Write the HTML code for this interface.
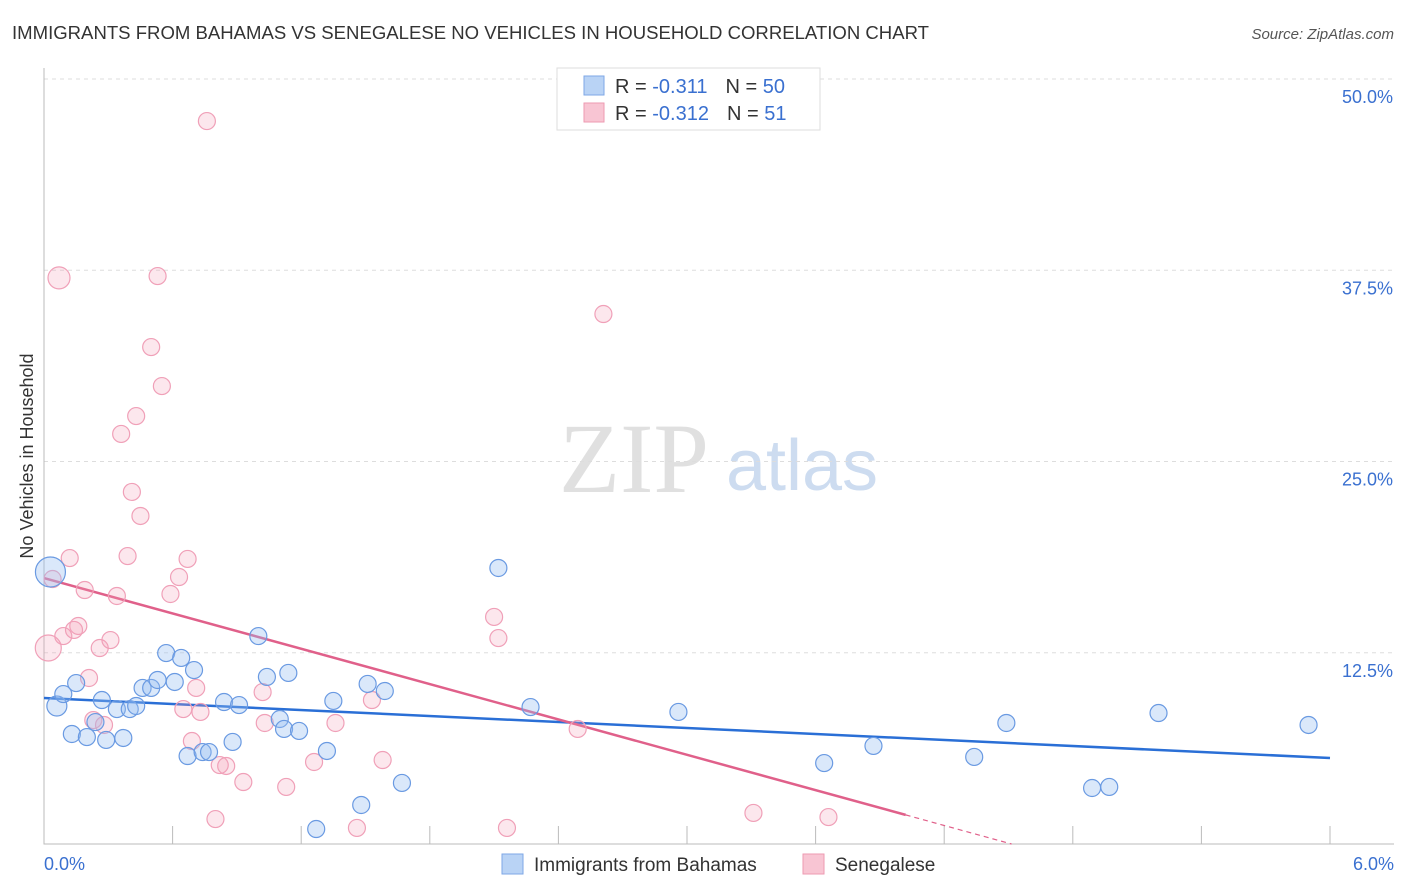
<!DOCTYPE html>
<html><head><meta charset="utf-8"><style>
body{margin:0;background:#fff;font-family:"Liberation Sans",sans-serif}
svg{display:block}
</style></head><body>
<svg id="chart" width="1406" height="892">
<text x="12" y="39" font-size="18" fill="#333" textLength="917" lengthAdjust="spacingAndGlyphs">IMMIGRANTS FROM BAHAMAS VS SENEGALESE NO VEHICLES IN HOUSEHOLD CORRELATION CHART</text>
<text x="1394" y="39" font-size="15" fill="#555" font-style="italic" text-anchor="end">Source: ZipAtlas.com</text>
<text x="33" y="456" font-size="18" fill="#333" text-anchor="middle" transform="rotate(-90 33 456)">No Vehicles in Household</text>
<g><text x="634" y="492" font-size="100" fill="#e0e0e0" font-family="Liberation Serif,serif" text-anchor="middle">ZIP</text><text x="802" y="490" font-size="72" fill="#cddcf0" text-anchor="middle">atlas</text></g>
<g id="grid"></g><g id="axes"></g><g id="lines"></g><g id="pts"></g>
<g>
<rect x="557" y="68" width="263" height="62" fill="#fff" stroke="#ddd"/>
<rect x="584" y="76" width="20" height="19" fill="#b9d3f5" stroke="#7ea7e6"/>
<rect x="584" y="103" width="20" height="19" fill="#f8c5d3" stroke="#ee9ab2"/>
<text x="615" y="93" font-size="20" fill="#333">R = <tspan fill="#3a70d0"> -0.311</tspan><tspan dx="18">N = </tspan><tspan fill="#3a70d0">50</tspan></text>
<text x="615" y="120" font-size="20" fill="#333">R = <tspan fill="#3a70d0">-0.312</tspan><tspan dx="18">N = </tspan><tspan fill="#3a70d0"> 51</tspan></text>
</g>
<g>
<rect x="502" y="854" width="21" height="20" fill="#b9d3f5" stroke="#7ea7e6"/>
<text x="534" y="871" font-size="19" fill="#333">Immigrants from Bahamas</text>
<rect x="803" y="854" width="21" height="20" fill="#f8c5d3" stroke="#ee9ab2"/>
<text x="835" y="871" font-size="19" fill="#333">Senegalese</text>
</g>
</svg>
<script>
const yTicks=[12.5,25,37.5,50];
const yTickLabels=["12.5%","25.0%","37.5%","50.0%"];
const xTickLabels=["0.0%","6.0%"];
const blueX=[0.03,0.06,0.09,0.13,0.15,0.20,0.24,0.27,0.29,0.34,0.37,0.40,0.43,0.46,0.50,0.53,0.57,0.61,0.64,0.67,0.70,0.74,0.77,0.84,0.88,0.91,1.00,1.04,1.10,1.12,1.14,1.19,1.27,1.32,1.35,1.48,1.51,1.59,1.67,2.12,2.27,2.96,3.64,3.87,4.34,4.49,4.89,4.97,5.20,5.90];
const blueY=[17.78,9.02,9.80,7.19,10.52,6.99,7.97,9.41,6.80,8.82,6.93,8.82,9.02,10.20,10.20,10.72,12.48,10.59,12.16,5.75,11.37,6.01,6.01,9.28,6.67,9.08,13.59,10.92,8.17,7.52,11.18,7.39,0.98,6.08,9.35,2.55,10.46,10.00,3.99,18.04,8.95,8.63,5.29,6.41,5.69,7.91,3.66,3.73,8.56,7.78];
const pinkX=[0.02,0.04,0.07,0.12,0.09,0.14,0.16,0.19,0.21,0.23,0.26,0.28,0.31,0.34,0.36,0.39,0.41,0.43,0.45,0.50,0.53,0.55,0.59,0.63,0.65,0.67,0.69,0.71,0.73,0.76,0.80,0.82,0.85,0.93,1.02,1.03,1.13,1.26,1.36,1.46,1.53,1.58,2.10,2.12,2.16,2.49,2.61,3.31,3.66];
const pinkY=[12.81,17.32,37.00,18.69,13.59,13.99,14.25,16.60,10.85,8.10,12.81,7.78,13.33,16.21,26.80,18.82,23.01,27.97,21.44,32.48,37.12,29.93,16.34,17.45,8.82,18.63,6.73,10.20,8.63,47.25,1.63,5.16,5.10,4.05,9.93,7.91,3.73,5.36,7.91,1.05,9.41,5.49,14.84,13.46,1.05,7.52,34.64,2.03,1.76];
const blueTrend=[9.54,-0.653];
const pinkTrend=[17.38,-3.85];
const X=v=>44+v/6*1286, Y=v=>844-v/50*765;
const NS="http://www.w3.org/2000/svg";
function mk(p,t,a){const e=document.createElementNS(NS,t);for(const k in a)e.setAttribute(k,a[k]);p.appendChild(e);return e;}
const grid=document.getElementById('grid'),axes=document.getElementById('axes'),lines=document.getElementById('lines'),pts=document.getElementById('pts');
yTicks.forEach((t,i)=>{
 const l=mk(grid,'line',{x1:44,x2:1394,y1:Y(t),y2:Y(t),stroke:'#ddd','stroke-dasharray':'4 4'});
 
 
 const tx=mk(grid,'text',{x:1393,y:Y(t)+24,'font-size':18,fill:'#3a70d0','text-anchor':'end'});tx.textContent=yTickLabels[i];
 
 
});
const ax=mk(axes,'path',{d:'M44 68V844H1394',stroke:'#bbb',fill:'none'});


for(let i=1;i<=10;i++){const t=mk(axes,'line',{x1:X(i*0.6),x2:X(i*0.6),y1:826,y2:844,stroke:'#bbb'});
 
 }
[[0,44,'start'],[6,1394,'end']].forEach((d,i)=>{const t=mk(axes,'text',{x:d[1],y:870,'font-size':18,fill:'#3a70d0','text-anchor':d[2]});t.textContent=xTickLabels[i];
 
 });
function pt(x,y,i,fill,stroke,big,name){
 const r=big[i]||8.5;
 const c=mk(pts,'circle',{cx:X(x),cy:Y(y),r:r,fill:fill,stroke:stroke,'stroke-width':1.2});
 
 
}
pinkX.forEach((x,i)=>pt(x,pinkY[i],i,'rgba(245,160,185,0.25)','#f0a0b8',{0:13,2:11},'senegalese-point'));
blueX.forEach((x,i)=>pt(x,blueY[i],i,'rgba(150,190,240,0.35)','#6a9ae2',{0:15,1:10},'bahamas-point'));
const bl=mk(lines,'line',{x1:X(0),y1:Y(blueTrend[0]),x2:X(6),y2:Y(blueTrend[0]+6*blueTrend[1]),stroke:'#2a6fd6','stroke-width':2.5});


const xe=4.02, x0=-pinkTrend[0]/pinkTrend[1];
const pl=mk(lines,'line',{x1:X(0),y1:Y(pinkTrend[0]),x2:X(xe),y2:Y(pinkTrend[0]+xe*pinkTrend[1]),stroke:'#e0608a','stroke-width':2.5});


const pd=mk(lines,'line',{x1:X(xe),y1:Y(pinkTrend[0]+xe*pinkTrend[1]),x2:X(x0),y2:Y(0),stroke:'#e0608a','stroke-width':1.2,'stroke-dasharray':'5 4'});


</script>
</body></html>
